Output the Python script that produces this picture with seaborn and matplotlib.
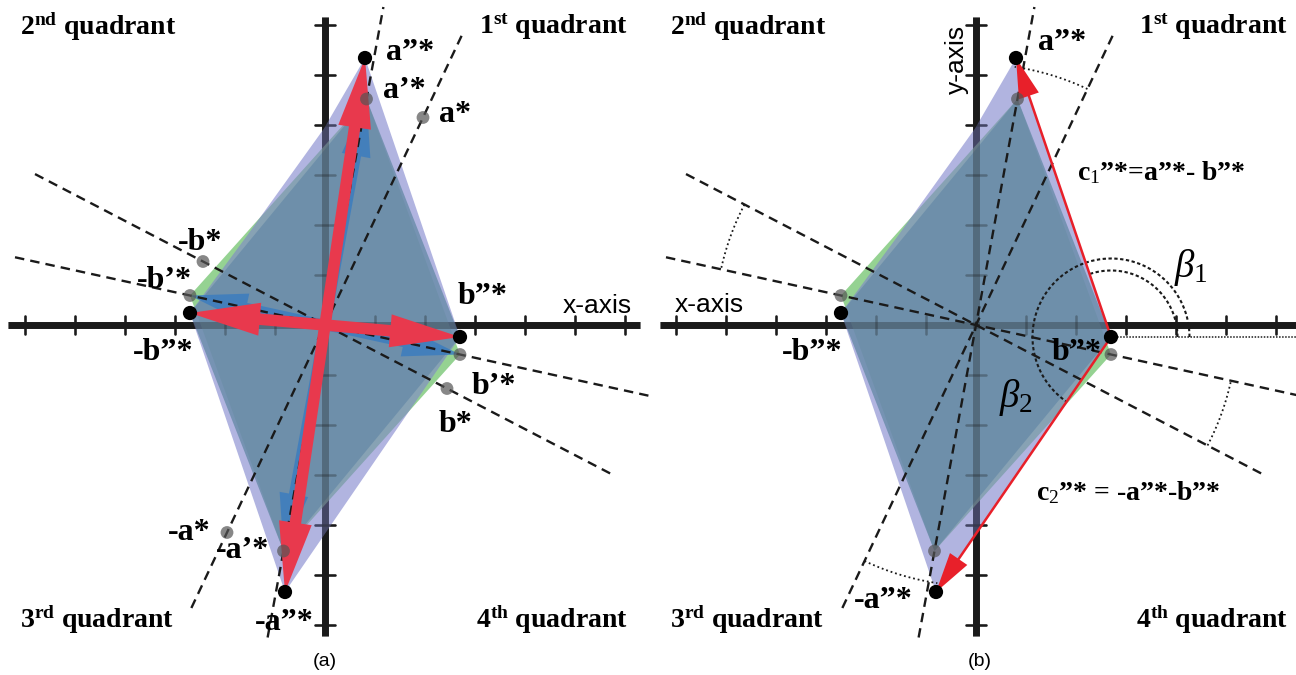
import numpy as np
import pandas as pd
import matplotlib.pyplot as plt
import seaborn as sns

# --- vector tips, in tick units (one tick = 50 px) ---
a_pp = np.array([0.80, 5.34])   # a''*
a_p = np.array([0.83, 4.52])    # a'*
a_0 = np.array([1.96, 4.15])    # a*
b_pp = np.array([2.70, -0.24])  # b''*
b_p = np.array([2.70, -0.59])   # b'*
b_0 = np.array([2.44, -1.27])   # b*

# upper-left corners where the lavender outline bends
lav_bends = np.array([[-1.55, 1.80], [-0.02, 3.93]])

# extent of the dashed construction lines (y range for a-lines, x range for b-lines)
a_line_y = {"a*": (-5.66, 5.86), "a'*": (-6.25, 6.36)}
b_line_x = {"b*": (-5.8, 5.8), "b'*": (-6.2, 6.5)}
arc_radius = 5.22

ticks = [t for t in range(-6, 7) if t != 0]

PP = "\u201d*"   # double prime mark
P1 = "\u2019*"   # single prime mark

sns.set_theme(style="white")
plt.rcParams["font.family"] = ["Liberation Serif", "DejaVu Sans"]
plt.rcParams["text.color"] = "black"
plt.rcParams["mathtext.fontset"] = "custom"
plt.rcParams["mathtext.rm"] = "Liberation Serif"
plt.rcParams["mathtext.bf"] = "Liberation Serif:bold"
plt.rcParams["mathtext.it"] = "Liberation Serif:italic"

fig = plt.figure(figsize=(12.96, 6.75), dpi=100)
axA = fig.add_axes([0, 0, 650 / 1296, 1])
axB = fig.add_axes([650 / 1296, 0, 646 / 1296, 1])
axA.set_xlim(-6.5, 6.5)
axB.set_xlim(-6.52, 6.4)
for ax in (axA, axB):
    ax.set_ylim(-7.0, 6.5)
    ax.set_axis_off()


def ang(v):
    return np.degrees(np.arctan2(v[1], v[0]))


def draw_axes(ax, xr):
    # solid axes under the shapes, plus a faint copy on top so they show through
    for z, a in ((1, 1.0), (4.5, 0.3)):
        ax.plot(xr, [0, 0], color="k", lw=5, alpha=a, solid_capstyle="butt", zorder=z)
        ax.plot([0, 0], [-6.22, 6.16], color="k", lw=5, alpha=a,
                solid_capstyle="butt", zorder=z)
        for t in ticks:
            ax.plot([t, t], [-0.18, 0.18], color="k", lw=1.8, alpha=a, zorder=z)
            ax.plot([-0.2, 0.2], [t, t], color="k", lw=1.8, alpha=a, zorder=z)


def draw_shapes(ax):
    green = np.array([a_p, b_p, -a_p, -b_p])
    lav = np.array([a_pp, b_pp, -a_pp, -b_pp, lav_bends[0], lav_bends[1]])
    blue = np.array([a_p, b_pp, -a_p, -b_pp])
    ax.fill(green[:, 0], green[:, 1], color="#8fd08c", alpha=0.95, lw=0, zorder=2)
    ax.fill(lav[:, 0], lav[:, 1], color="#7e82cc", alpha=0.6, lw=0, zorder=3)
    ax.fill(blue[:, 0], blue[:, 1], color="#688ba8", alpha=0.8, lw=0, zorder=4)


def draw_dashed(ax):
    rows = []
    for name, (y1, y2) in a_line_y.items():
        v = a_0 if name == "a*" else a_p
        for y in (y1, y2):
            rows.append({"line": name, "x": v[0] / v[1] * y, "y": y})
    for name, (x1, x2) in b_line_x.items():
        v = b_0 if name == "b*" else b_p
        for x in (x1, x2):
            rows.append({"line": name, "x": x, "y": v[1] / v[0] * x})
    df = pd.DataFrame(rows)
    sns.lineplot(data=df, x="x", y="y", units="line", estimator=None, sort=False,
                 color="k", lw=1.7, linestyle=(0, (4, 2.6)), legend=False,
                 ax=ax, zorder=6)
    ax.set_xlabel("")
    ax.set_ylabel("")


def draw_dots(ax, black, gray):
    black = np.array(black)
    gray = np.array(gray)
    sns.scatterplot(x=gray[:, 0], y=gray[:, 1], color="#555555", alpha=0.7, s=85,
                    edgecolor="none", ax=ax, zorder=8)
    sns.scatterplot(x=black[:, 0], y=black[:, 1], color="black", s=105,
                    edgecolor="none", ax=ax, zorder=9)


def arc(ax, c, r, t1, t2, **kw):
    th = np.radians(np.linspace(t1, t2, 80))
    ax.plot(c[0] + r * np.cos(th), c[1] + r * np.sin(th), **kw)


lab = dict(fontsize=23, fontweight="bold", ha="left", va="center", zorder=10)
quad = dict(fontsize=20, fontweight="bold", va="center", zorder=10)


def quadrant_labels(ax, xl, xr):
    ax.text(xl, 5.96, r"2$^{\mathbf{nd}}$ quadrant", ha="left", **quad)
    ax.text(xr, 5.96, r"1$^{\mathbf{st}}$ quadrant", ha="right", **quad)
    ax.text(xl, -5.9, r"3$^{\mathbf{rd}}$ quadrant", ha="left", **quad)
    ax.text(xr, -5.9, r"4$^{\mathbf{th}}$ quadrant", ha="right", **quad)


# ---------------- panel (a) ----------------
ax = axA
draw_axes(ax, [-6.34, 6.3])
draw_shapes(ax)
draw_dashed(ax)
for v in (a_p, b_p, -a_p, -b_p):
    ax.arrow(0, 0, v[0], v[1], width=0.2, head_width=0.58, head_length=1.15,
             length_includes_head=True, fc="#3c7dbf", ec="none", alpha=0.85, zorder=5)
for v in (a_pp, b_pp, -a_pp, -b_pp):
    ax.arrow(0, 0, v[0], v[1], width=0.23, head_width=0.66, head_length=1.4,
             length_includes_head=True, fc="#e8394d", ec="none", zorder=7)
draw_dots(ax, [a_pp, b_pp, -a_pp, -b_pp], [a_p, a_0, b_p, b_0, -a_p, -a_0, -b_p, -b_0])

ax.text(1.22, 5.46, "a" + PP, **lab)
ax.text(1.16, 4.70, "a" + P1, **lab)
ax.text(2.28, 4.20, "a*", **lab)
ax.text(2.66, 0.56, "b" + PP, **lab)
ax.text(-2.94, 1.66, "-b*", **lab)
ax.text(-3.76, 0.90, "-b" + P1, **lab)
ax.text(-3.84, -0.54, "-b" + PP, **lab)
ax.text(2.94, -1.24, "b" + P1, **lab)
ax.text(2.28, -2.00, "b*", **lab)
ax.text(-3.14, -4.16, "-a*", **lab)
ax.text(-2.18, -4.50, "-a" + P1, **lab)
ax.text(-1.40, -5.96, "-a" + PP, **lab)
ax.text(4.75, 0.38, "x-axis", family="Liberation Sans", fontsize=19,
        ha="left", va="center", zorder=10)
quadrant_labels(ax, -6.1, 6.06)
ax.text(0, -6.72, "(a)", family="Liberation Sans", fontsize=14, ha="center", va="center")

# ---------------- panel (b) ----------------
ax = axB
draw_axes(ax, [-6.32, 6.4])
draw_shapes(ax)
draw_dashed(ax)
dots = dict(color="k", lw=1.3, linestyle=(0, (1, 1.6)), zorder=6)
arc(ax, (0, 0), arc_radius, ang(a_0), ang(a_pp), **dots)
arc(ax, (0, 0), arc_radius, ang(-b_0), ang(-b_p), **dots)
arc(ax, (0, 0), arc_radius, ang(-a_0) % 360, ang(-a_pp) % 360, **dots)
arc(ax, (0, 0), arc_radius, ang(b_0), ang(b_p), **dots)
fine = dict(color="k", lw=1.5, linestyle=(0, (1.6, 1.2)), zorder=6)
arc(ax, b_pp, 1.57, 0, ang(-a_pp - b_pp) % 360, **fine)
arc(ax, b_pp, 1.33, 0, ang(a_pp - b_pp), **fine)
ax.plot([b_pp[0], 6.4], [b_pp[1], b_pp[1]], color="k", lw=1.1,
        linestyle=(0, (1, 1)), zorder=6)
for tip in (a_pp, -a_pp):
    d = tip - b_pp
    ax.arrow(b_pp[0], b_pp[1], d[0], d[1], width=0.05, head_width=0.42,
             head_length=0.8, length_includes_head=True, fc="#e8202a",
             ec="none", zorder=7)
draw_dots(ax, [a_pp, b_pp, -a_pp, -b_pp], [a_p, b_p, -a_p, -b_p])

ax.text(1.24, 5.64, "a" + PP, **lab)
ax.text(1.52, -0.54, "b" + PP, **lab)
ax.text(-3.88, -0.54, "-b" + PP, **lab)
ax.text(-2.44, -5.50, "-a" + PP, **lab)
ax.text(2.02, 3.04, r"c$_{\mathit{1}}$" + PP + "=a" + PP + "- b" + PP,
        fontsize=20, fontweight="bold", ha="left", va="center", zorder=10)
ax.text(1.20, -3.36, r"c$_{\mathit{2}}$" + PP + " = -a" + PP + "-b" + PP,
        fontsize=20, fontweight="bold", ha="left", va="center", zorder=10)
ax.text(3.96, 1.14, r"$\beta_{\mathrm{1}}$", fontsize=28, ha="left", va="center", zorder=10)
ax.text(0.46, -1.44, r"$\beta_{\mathrm{2}}$", fontsize=28, ha="left", va="center", zorder=10)
ax.text(-6.02, 0.40, "x-axis", family="Liberation Sans", fontsize=19,
        ha="left", va="center", zorder=10)
ax.text(-0.38, 5.32, "y-axis", family="Liberation Sans", fontsize=19, rotation=90,
        ha="center", va="center", zorder=10)
quadrant_labels(ax, -6.12, 6.24)
ax.text(0.08, -6.72, "(b)", family="Liberation Sans", fontsize=14, ha="center", va="center")

fig.savefig("out.png", dpi=100)
